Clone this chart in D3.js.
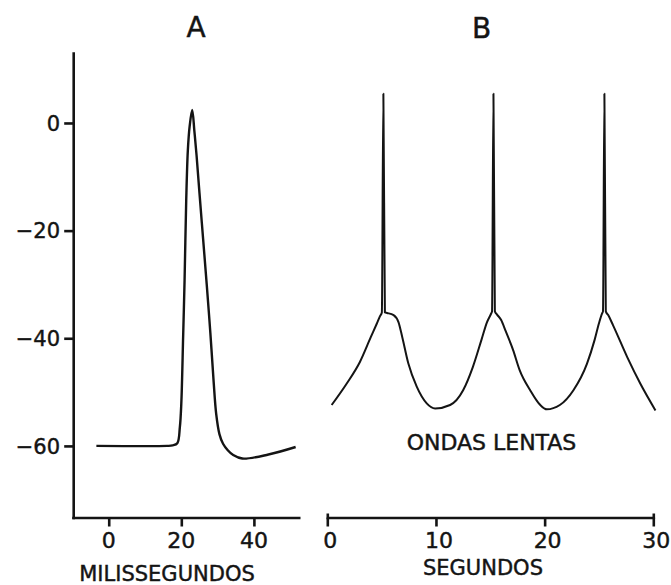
<!DOCTYPE html>
<html>
<head>
<meta charset="utf-8">
<script src="https://cdn.jsdelivr.net/npm/d3@7/dist/d3.min.js"></script>
<style>
  html, body { margin: 0; padding: 0; background: #fff; }
  svg { display: block; }
  text { font-family: "DejaVu Sans", "Liberation Sans", sans-serif; fill: #141414; stroke: #141414; stroke-width: 0.45px; }
</style>
</head>
<body>
<script>
// ---- data ----
const panelTitles = ["A", "B"];
const yTicks = [0, -20, -40, -60];
const xTicksA = [0, 20, 40];
const xTicksB = [0, 10, 20, 30];
const xLabelA = "MILISSEGUNDOS";
const xLabelB = "SEGUNDOS";
const annotationB = "ONDAS LENTAS";

// panel A: time (ms), membrane potential (mV)
const timeA = [-3.4, 16.1, 17.6, 18.9, 19.6, 20.0, 20.5, 20.9, 21.35, 21.8, 22.3, 23.0, 23.6, 24.2, 25.0, 26.0, 27.0, 28.0, 28.9, 29.6, 30.5, 31.5, 32.8, 34.3, 36.8, 44.0, 51.5];
const voltA = [-60, -60, -59.9, -59.5, -56.5, -52.1, -39.75, -29.2, -14.4, -5.1, -0.6, 2.4, -1.5, -6.0, -13.0, -21.5, -30.0, -39.0, -48.0, -54.0, -57.8, -59.6, -60.8, -61.7, -62.35, -61.6, -60.2];

// panel B: time (s), membrane potential (mV)
const timeB = [0.4, 1.79, 3.0, 4.0, 4.55, 4.85, 5.02, 5.16, 5.3, 5.5, 6.1, 6.55, 6.9, 7.46, 8.23, 9.15, 9.92, 11.3, 12.5, 13.4, 14.2, 14.7, 15.08, 15.16, 15.29, 15.42, 15.62, 16.0, 16.4, 17.1, 17.7, 18.67, 19.6, 20.2, 21.4, 22.65, 23.9, 24.6, 25.0, 25.28, 25.37, 25.5, 25.63, 25.85, 26.3, 27.6, 28.8, 30.2];
const voltB = [-52.4, -48.4, -44.4, -39.8, -37.3, -35.9, -35.2, 5.45, -35.2, -35.3, -35.7, -37.0, -39.8, -44.7, -49.0, -52.1, -53.05, -52.4, -49.65, -45.3, -40.2, -37.0, -35.4, -35.0, 5.45, -35.0, -35.6, -36.6, -38.6, -42.2, -45.9, -49.65, -52.4, -53.2, -52.4, -49.65, -44.7, -40.3, -37.2, -35.4, -35.0, 5.45, -35.0, -35.7, -37.6, -43.5, -48.4, -53.4];

// ---- layout ----
const W = 671, H = 585;
const ink = "#141414";
const svg = d3.select("body").append("svg").attr("width", W).attr("height", H);

const y = d3.scaleLinear().domain([13, -73.3]).range([53, 517.5]);
const xA = d3.scaleLinear().domain([-10.2, 52.7]).range([71.7, 300]);
const xB = d3.scaleLinear().domain([0, 30]).range([327.3, 653.3]);
const axisY = 517.5;

// y axis
const gy = svg.append("g").attr("transform", `translate(${xA.range()[0] + 1.5},0)`)
  .call(d3.axisLeft(y).tickValues(yTicks).tickSize(9).tickSizeOuter(0).tickFormat(() => ""));
gy.selectAll("path, line").attr("stroke", ink).attr("stroke-width", 2.6);
gy.select(".domain").attr("stroke-linecap", "square");
svg.append("g").selectAll("text").data(yTicks).join("text")
  .attr("x", 60).attr("y", d => y(d) + 7.8)
  .attr("text-anchor", "end").attr("font-size", 21)
  .text(d => d === 0 ? "0" : "\u2212" + Math.abs(d));

// x axis A
const gxA = svg.append("g").attr("transform", `translate(0,${axisY})`)
  .call(d3.axisBottom(xA).tickValues(xTicksA).tickSize(9).tickSizeOuter(0).tickFormat(() => ""));
gxA.selectAll("path, line").attr("stroke", ink).attr("stroke-width", 2.6);
svg.append("g").selectAll("text").data(xTicksA).join("text")
  .attr("x", d => xA(d)).attr("y", 548)
  .attr("text-anchor", "middle").attr("font-size", 22)
  .text(d => d);
svg.append("text").attr("x", 167).attr("y", 581).attr("text-anchor", "middle")
  .attr("font-size", 21).text(xLabelA);

// x axis B
const gxB = svg.append("g").attr("transform", `translate(0,${axisY})`)
  .call(d3.axisBottom(xB).tickValues(xTicksB).tickSize(9).tickSizeOuter(-4).tickFormat(() => ""));
gxB.selectAll("path, line").attr("stroke", ink).attr("stroke-width", 2.6);
svg.append("g").selectAll("text").data(xTicksB).join("text")
  .attr("x", d => xB(d) + 3).attr("y", 548)
  .attr("text-anchor", "middle").attr("font-size", 22)
  .text(d => d);
svg.append("text").attr("x", 483).attr("y", 575).attr("text-anchor", "middle")
  .attr("font-size", 21).text(xLabelB);

// titles
svg.append("text").attr("x", 196).attr("y", 37).attr("text-anchor", "middle")
  .attr("font-size", 28).text(panelTitles[0]);
svg.append("text").attr("x", 481.5).attr("y", 38).attr("text-anchor", "middle")
  .attr("font-size", 28).text(panelTitles[1]);

// annotation
svg.append("text").attr("x", 491.5).attr("y", 450).attr("text-anchor", "middle")
  .attr("font-size", 22).text(annotationB);

// curves
const dataA = timeA.map((t, i) => [t, voltA[i]]);
const dataB = timeB.map((t, i) => [t, voltB[i]]);

svg.append("path").datum(dataA)
  .attr("d", d3.line().x(d => xA(d[0])).y(d => y(d[1])).curve(d3.curveCatmullRom.alpha(0.5)))
  .attr("fill", "none").attr("stroke", ink).attr("stroke-width", 2.4)
  .attr("stroke-linejoin", "round");

svg.append("path").datum(dataB)
  .attr("d", d3.line().x(d => xB(d[0])).y(d => y(d[1])).curve(d3.curveMonotoneX))
  .attr("fill", "none").attr("stroke", ink).attr("stroke-width", 2.0)
  .attr("stroke-linejoin", "round");
</script>
</body>
</html>
